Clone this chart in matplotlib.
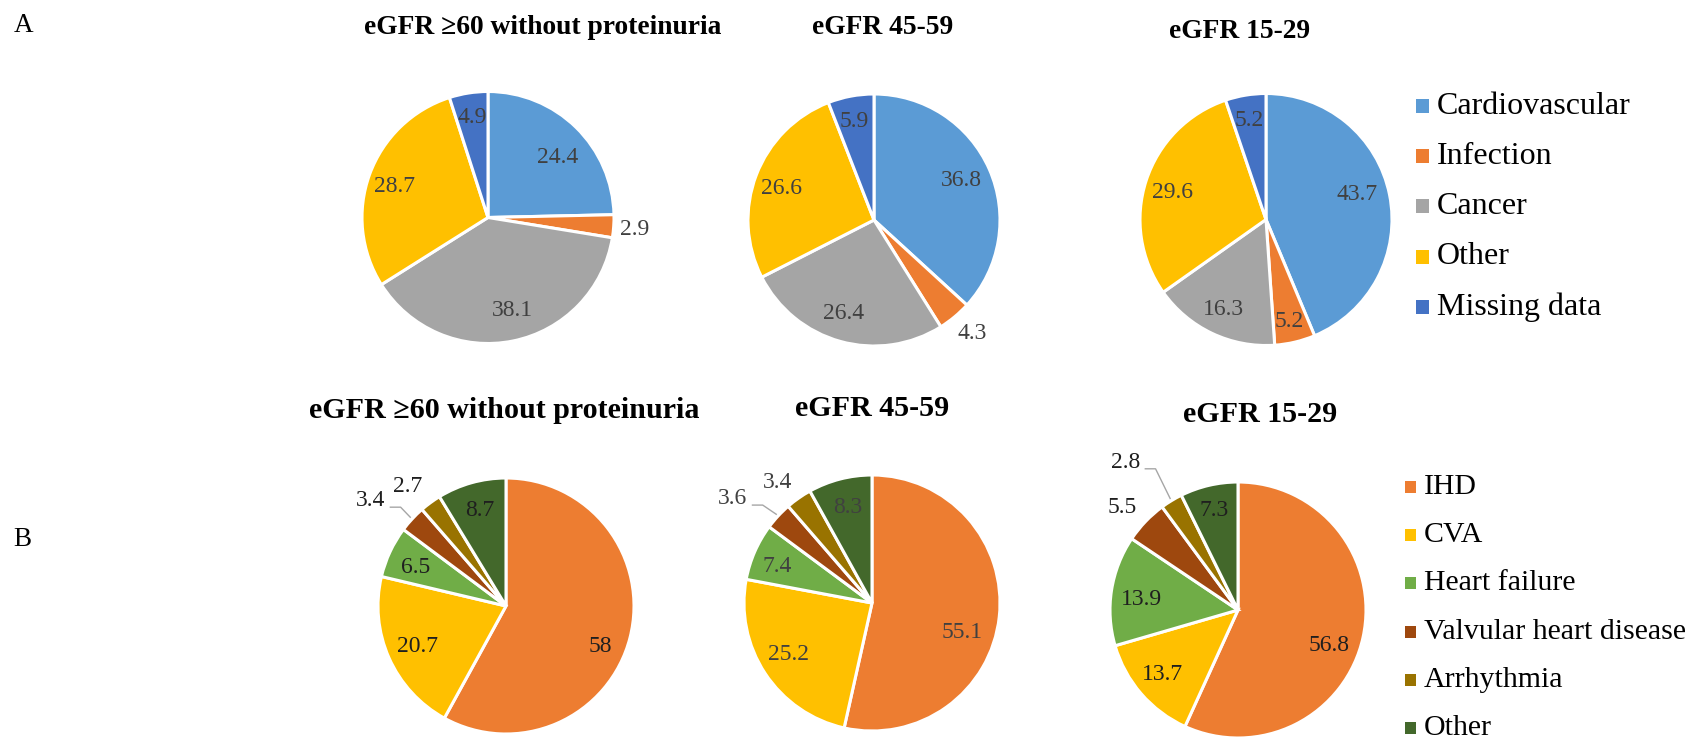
import matplotlib
matplotlib.use("Agg")
import matplotlib.pyplot as plt
from matplotlib.patches import Rectangle
import numpy as np

W, H, DPI = 1691, 741, 100
plt.rcParams['font.family'] = ['Liberation Serif', 'DejaVu Serif']

# ---- Panel A: all-cause mortality by cause ----
causes = ["Cardiovascular", "Infection", "Cancer", "Other", "Missing data"]
cause_colors = ["#5B9BD5", "#ED7D31", "#A5A5A5", "#FFC000", "#4472C4"]
group_titles = ["eGFR \u226560 without proteinuria", "eGFR 45-59", "eGFR 15-29"]
a_egfr60 = [24.4, 2.9, 38.1, 28.7, 4.9]
a_egfr45 = [36.8, 4.3, 26.4, 26.6, 5.9]
a_egfr15 = [43.7, 5.2, 16.3, 29.6, 5.2]

# ---- Panel B: cardiovascular deaths by cause ----
cv_causes = ["IHD", "CVA", "Heart failure", "Valvular heart disease",
             "Arrhythmia", "Other"]
cv_colors = ["#ED7D31", "#FFC000", "#70AD47", "#9E480E", "#997300", "#43682B"]
b_egfr60 = [58, 20.7, 6.5, 3.4, 2.7, 8.7]
b_egfr45 = [55.1, 25.2, 7.4, 3.6, 3.4, 8.3]
b_egfr15 = [56.8, 13.7, 13.9, 5.5, 2.8, 7.3]

fig = plt.figure(figsize=(W / DPI, H / DPI), dpi=DPI)


def fx(x):
    return x / W


def fy(y):
    return 1 - y / H


def draw_pie(values, colors, cx, cy, r, rho, nudge, txt_color, leader=None):
    ax = fig.add_axes([fx(cx - r), fy(cy + r), 2 * r / W, 2 * r / H])
    wedges, _ = ax.pie(values, colors=colors, startangle=90,
                       counterclock=False, radius=1,
                       wedgeprops=dict(edgecolor="white", linewidth=2.2))
    ax.set_xlim(-1, 1)
    ax.set_ylim(-1, 1)
    ax.set_aspect("equal")
    ax.axis("off")
    for i, (w, v, p, d) in enumerate(zip(wedges, values, rho, nudge)):
        mid = np.deg2rad((w.theta1 + w.theta2) / 2)
        ang = mid + np.deg2rad(d)
        x, y = p * np.cos(ang), p * np.sin(ang)
        ax.text(x, y, f"{v:g}", ha="center", va="center", fontsize=17,
                color=txt_color, clip_on=False)
        if leader is not None and i == leader:
            sx, sy = x + 0.155, y - 0.05
            ex, ey = 1.02 * np.cos(mid), 1.02 * np.sin(mid)
            ax.plot([sx, sx + 0.08, ex], [sy, sy, ey], color="#A6A6A6",
                    lw=1.0, clip_on=False)
    return ax


def legend(labels, colors, mx, y0, dy, msize, tx, fs):
    for i, (lab, c) in enumerate(zip(labels, colors)):
        y = y0 + i * dy
        fig.add_artist(Rectangle((fx(mx - msize[0] / 2), fy(y + msize[1] / 2)),
                                 msize[0] / W, msize[1] / H,
                                 transform=fig.transFigure, color=c, lw=0))
        fig.text(fx(tx), fy(y), lab, ha="left", va="center", fontsize=fs,
                 color="#000000")


title_kw = dict(ha="center", va="center", fontweight="bold", color="#000000")

# Panel A
fig.text(fx(24), fy(25), "A", ha="center", va="center", fontsize=19.5)
draw_pie(a_egfr60, cause_colors, 488, 217.5, 126,
         [0.73, 1.17, 0.76, 0.78, 0.80], [-5, -0.5, 3.5, 1.5, 0], "#404040")
draw_pie(a_egfr45, cause_colors, 874, 220, 126,
         [0.76, 1.19, 0.78, 0.78, 0.80], [0.6, 1.2, -2.5, 2, 1], "#404040")
draw_pie(a_egfr15, cause_colors, 1266, 219.5, 126,
         [0.75, 0.83, 0.79, 0.77, 0.80], [4, -0.7, 0, 2, 0], "#404040")
fig.text(fx(543), fy(27), group_titles[0], fontsize=19.8, **title_kw)
fig.text(fx(883), fy(27), group_titles[1], fontsize=19.8, **title_kw)
fig.text(fx(1240), fy(32), group_titles[2], fontsize=19.8, **title_kw)
legend(causes, cause_colors, 1422, 106, 50.2, (13, 14), 1437, 23)

# Panel B
fig.text(fx(22), fy(540), "B", ha="center", va="center", fontsize=19.5)
draw_pie(b_egfr60, cv_colors, 506, 606, 128,
         [0.80, 0.76, 0.77, 1.34, 1.21, 0.77],
         [-8.6, 0.4, 2, 5, 3.3, -0.4], "#1F1F1F", leader=3)
draw_pie(b_egfr45, cv_colors, 872, 603, 128,
         [0.74, 0.77, 0.79, 1.36, 1.20, 0.77],
         [-12, -1.6, 2.6, 6, 3.2, 0], "#404040", leader=3)
draw_pie(b_egfr15, cv_colors, 1238, 610, 128,
         [0.76, 0.78, 0.76, 1.21, 1.45, 0.80],
         [-9, -0.3, 2.8, 2.4, 6, 0.4], "#1F1F1F", leader=4)
fig.text(fx(504), fy(410), group_titles[0], fontsize=21.6, **title_kw)
fig.text(fx(872), fy(408), group_titles[1], fontsize=21.6, **title_kw)
fig.text(fx(1260), fy(415), group_titles[2], fontsize=21.6, **title_kw)
legend(cv_causes, cv_colors, 1410, 487, 48.2, (11, 12), 1424, 21.5)

fig.savefig("out.png", dpi=DPI, facecolor="white")
